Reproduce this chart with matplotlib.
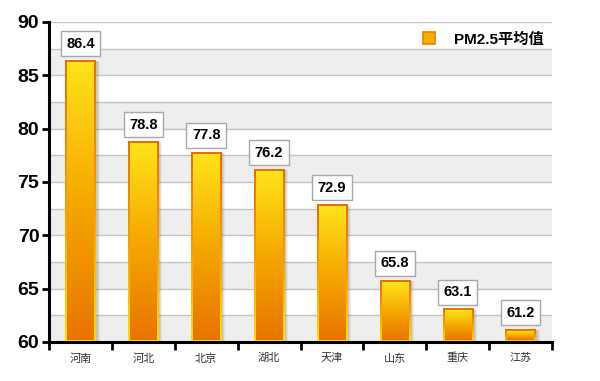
#!/usr/bin/env python3
"""PM2.5 average by province, gradient bar chart."""

import numpy as np
import matplotlib
matplotlib.use("Agg")
from matplotlib import pyplot as plt
from matplotlib.colors import LinearSegmentedColormap
from matplotlib.patches import Rectangle
from matplotlib.lines import Line2D

plt.rcParams['font.family'] = ['Liberation Sans', 'Noto Sans CJK SC', 'DejaVu Sans']

# data
provinces = ["河南", "河北", "北京", "湖北", "天津", "山东", "重庆", "江苏"]
pm25 = [86.4, 78.8, 77.8, 76.2, 72.9, 65.8, 63.1, 61.2]
series_name = "PM2.5平均值"
y_ticks = [60, 65, 70, 75, 80, 85, 90]

# bar fill: orange at bottom -> yellow at top; edge the other way round
fill_cmap = LinearSegmentedColormap.from_list("fill", ["#E87400", "#F5A800", "#FFE21A"])
edge_cmap = LinearSegmentedColormap.from_list("edge", ["#FFE000", "#F5A000", "#E87000"])
grad = np.linspace(0, 1, 256).reshape(-1, 1)

fig = plt.figure(figsize=(6.0, 3.81), dpi=100)
ax = fig.add_axes([0.0817, 0.1024, 0.8383, 0.8399])
ax.set_xlim(-0.5, len(provinces) - 0.5)
ax.set_ylim(60, 90)

# alternating background bands and grid lines every 2.5
for lo in np.arange(60, 90, 5):
    ax.axhspan(lo, lo + 2.5, color="#EEEEEE", zorder=0, lw=0)
for y in np.arange(62.5, 90.1, 2.5):
    ax.axhline(y, color="#C4C4C4", lw=1.0, zorder=1)

bar_w = 0.48
px_x = 1.0 / 62.9       # data units per pixel, horizontal
px_y = 5.0 / 53.3       # data units per pixel, vertical
for i, v in enumerate(pm25):
    x0, x1 = i - bar_w / 2, i + bar_w / 2
    # soft shadow on the right
    for k, a in zip((4, 3, 2), (0.10, 0.15, 0.2)):
        ax.add_patch(Rectangle((x0 + k * px_x, 60), bar_w, v - 60 - k * px_y * 0.3,
                               color="#808080", alpha=a, lw=0, zorder=2))
    ax.imshow(grad, cmap=edge_cmap, origin="lower", aspect="auto",
              extent=(x0, x1, 60, v), zorder=3, interpolation="bilinear")
    ax.imshow(grad, cmap=fill_cmap, origin="lower", aspect="auto",
              extent=(x0 + 2 * px_x, x1 - 2 * px_x, 60 + 2 * px_y, v - 2 * px_y),
              zorder=4, interpolation="bilinear")
    ax.annotate(f"{v:.1f}", (i, v), xytext=(0, 12), textcoords="offset points",
                ha="center", va="center", fontsize=10.5, fontweight="bold",
                zorder=6, annotation_clip=False,
                bbox=dict(boxstyle="square,pad=0.38", fc="white", ec="#A8A8A8", lw=1))

ax.set_xlim(-0.5, len(provinces) - 0.5)
ax.set_ylim(60, 90)

# axes styling
for s in ("top", "right"):
    ax.spines[s].set_visible(False)
for s in ("left", "bottom"):
    ax.spines[s].set_linewidth(2.2)
    ax.spines[s].set_color("black")
    ax.spines[s].set_zorder(7)

ax.set_yticks(y_ticks)
ax.set_yticklabels([str(t) for t in y_ticks], fontsize=14, fontweight="bold")
ax.tick_params(axis="y", length=5, width=2, pad=2)

ax.set_xticks(np.arange(-0.5, len(provinces)), minor=True)
ax.set_xticks(range(len(provinces)))
ax.set_xticklabels(provinces, fontsize=8, color="#333333", family=['Noto Sans CJK SC'])
ax.tick_params(axis="x", which="major", length=0, pad=8)
ax.tick_params(axis="x", which="minor", length=6, width=2)

# legend
handle = Line2D([], [], marker="s", ls="none", markersize=9,
                markerfacecolor="#F7B000", markeredgecolor="#E88000", markeredgewidth=1.2)
leg = ax.legend([handle], [series_name], loc="upper right", frameon=False,
                bbox_to_anchor=(1.01, 1.01), handletextpad=0.6,
                prop=dict(size=11, weight="bold"))

fig.savefig("out.png", dpi=100)
